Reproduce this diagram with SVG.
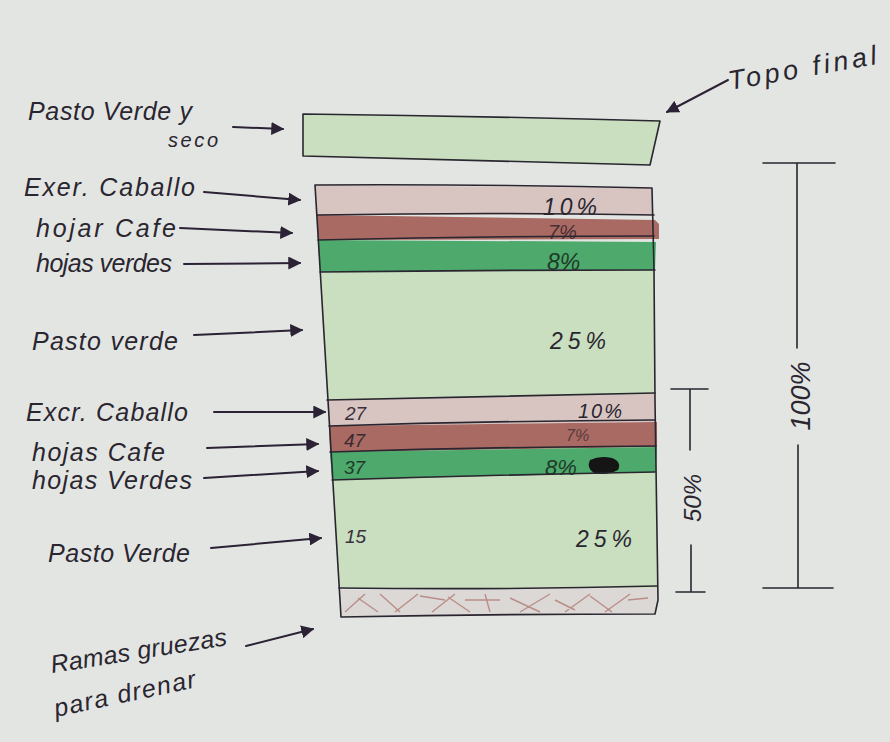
<svg xmlns="http://www.w3.org/2000/svg" width="890" height="742" viewBox="0 0 890 742">
<defs>
<marker id="ah" viewBox="0 0 10 10" refX="9" refY="5" markerWidth="13" markerHeight="13" markerUnits="userSpaceOnUse" orient="auto">
<path d="M0,0 L10,5 L0,10 Z" fill="#2b2235"/>
</marker>
<style>
.bg{fill:#e3e5e2}
.ink{fill:none;stroke:#2a2630;stroke-width:1.6;stroke-linecap:round;stroke-linejoin:round}
.arr{fill:none;stroke:#2b2235;stroke-width:2;stroke-linecap:round;marker-end:url(#ah)}
.lbl{font-family:"Liberation Sans","DejaVu Sans",sans-serif;font-style:italic;font-size:25px;fill:#2a2630}
.pct{font-family:"Liberation Sans","DejaVu Sans",sans-serif;font-style:italic;font-size:23px;fill:#2a2630}
.num{font-family:"Liberation Sans","DejaVu Sans",sans-serif;font-style:italic;font-size:19px;fill:#3a3040}
.lg{fill:#c9dfbf}
.pk{fill:#d8c5c2}
.br{fill:#a86a63}
.gr{fill:#4da96c}
.hatch{fill:none;stroke:#b98d88;stroke-width:1.4}
</style>
</defs>
<rect class="bg" x="0" y="0" width="890" height="742"/>

<!-- Top layer -->
<g id="topo-final">
<polygon class="lg" points="303,114 660,121 649,165 303,156"/>
<path class="ink" d="M303,114 Q480,116 660,121 M660,121 L650,165 M303,156 Q480,160 650,165 M303,114 L303,156"/>
</g>

<!-- Main stack layers -->
<g id="capa-exc-caballo-1">
<polygon class="pk" points="315,185 652,188 653,215 317,215"/>
<text class="pct" x="543" y="215" textLength="54" lengthAdjust="spacing">10%</text>
</g>
<g id="capa-hojas-cafe-1">
<polygon class="br" points="317,215 655,220 659,224 659,239 318,240"/>
<text class="pct" x="548" y="239" style="fill:#4a3035;font-size:20px">7%</text>
</g>
<g id="capa-hojas-verdes-1">
<polygon class="gr" points="318,240 656,242 655,270 320,272"/>
<text class="pct" x="547" y="270" style="fill:#1f3a28">8%</text>
</g>
<g id="capa-pasto-verde-1">
<polygon class="lg" points="320,272 655,270 655,398 327,400"/>
<text class="pct" x="550" y="349" textLength="56" lengthAdjust="spacing">25%</text>
</g>
<g id="capa-exc-caballo-2">
<polygon class="pk" points="327,400 655,394 655,422 329,426"/>
<text class="num" x="345" y="420">27</text>
<text class="pct" x="578" y="418" style="font-size:20px" textLength="44" lengthAdjust="spacing">10%</text>
</g>
<g id="capa-hojas-cafe-2">
<polygon class="br" points="329,426 657,422 657,447 330,452"/>
<text class="num" x="344" y="447" style="fill:#3a2a30">47</text>
<text class="pct" x="566" y="441" style="fill:#5a3a3a;font-size:16px">7%</text>
</g>
<g id="capa-pasto-verde-2">
<polygon class="lg" points="332,480 656,472 657,588 339,588"/>
<text class="num" x="345" y="543">15</text>
<text class="pct" x="576" y="547" textLength="56" lengthAdjust="spacing">25%</text>
</g>
<g id="capa-hojas-verdes-2">
<polygon class="gr" points="330,452 657,447 656,472 332,480"/>
<text class="num" x="344" y="474" style="fill:#1f3a28">37</text>
<text class="pct" x="545" y="475" style="fill:#1f3a28;font-size:22px">8%</text>
<path d="M590,460 Q600,455 612,458 Q622,462 618,470 Q606,476 594,473 Q586,468 590,460 Z" fill="#151515"/>
</g>
<g id="capa-ramas">
<polygon fill="#dcd8d5" points="340,590 657,588 656,614 341,617"/>
<path class="hatch" d="M345,612 L365,594 M358,598 L378,612 M380,594 L400,612 M395,612 L418,594 M420,596 L445,600 M432,612 L455,594 M448,597 L470,612 M465,600 L500,600 M485,594 L490,612 M510,598 L540,612 M520,612 L550,594 M555,600 L575,610 M565,612 L590,594 M590,596 L612,612 M605,612 L630,594 M628,600 L648,598"/>
</g>
<g id="stack-outline">
<path class="ink" d="M315,185 Q480,184 652,188 M652,188 L654,270 L655,400 L658,600 L655,614 M315,185 L328,400 L340,600 L341,617 Q500,614 655,614"/>
<path class="ink" d="M317,215 Q490,212 654,215 M318,240 Q490,236 654,236 M320,272 Q490,270 655,270 M327,400 Q490,396 655,393 M329,426 Q490,421 655,420 M330,452 Q490,447 656,446 M332,480 Q490,475 655,472 M339,588 Q500,590 657,586"/>
</g>

<!-- Labels -->
<g id="lbl-pasto-verde-seco">
<text class="lbl" x="28" y="120" textLength="164" lengthAdjust="spacing">Pasto Verde y</text>
<text class="lbl" x="168" y="147" style="font-size:20px" textLength="50" lengthAdjust="spacing">seco</text>
</g>
<g id="lbl-exc-caballo-1"><text class="lbl" x="24" y="196" textLength="171" lengthAdjust="spacing">Exer. Caballo</text></g>
<g id="lbl-hojas-cafe-1"><text class="lbl" x="36" y="237" textLength="140" lengthAdjust="spacing">hojar Cafe</text></g>
<g id="lbl-hojas-verdes-1"><text class="lbl" x="36" y="272" textLength="136" lengthAdjust="spacing">hojas verdes</text></g>
<g id="lbl-pasto-verde-1"><text class="lbl" x="32" y="350" textLength="146" lengthAdjust="spacing">Pasto verde</text></g>
<g id="lbl-exc-caballo-2"><text class="lbl" x="26" y="421" textLength="162" lengthAdjust="spacing">Excr. Caballo</text></g>
<g id="lbl-hojas-cafe-2"><text class="lbl" x="32" y="461" textLength="133" lengthAdjust="spacing">hojas Cafe</text></g>
<g id="lbl-hojas-verdes-2"><text class="lbl" x="32" y="489" textLength="160" lengthAdjust="spacing">hojas Verdes</text></g>
<g id="lbl-pasto-verde-2"><text class="lbl" x="48" y="562" textLength="142" lengthAdjust="spacing">Pasto Verde</text></g>
<g id="lbl-ramas">
<text class="lbl" x="52" y="673" transform="rotate(-9 52 673)" textLength="178" lengthAdjust="spacing">Ramas gruezas</text>
<text class="lbl" x="56" y="717" transform="rotate(-12 56 717)" textLength="144" lengthAdjust="spacing">para drenar</text>
</g>
<g id="lbl-topo-final">
<text class="lbl" x="730" y="90" style="font-size:27px" transform="rotate(-10 730 90)" textLength="150" lengthAdjust="spacing">Topo final</text>
</g>

<!-- Dimension lines -->
<g id="dim-100">
<path class="ink" d="M763,163 L835,163 M763,588 L833,588 M797,163 L797,348 M798,445 L798,588"/>
<text class="pct" x="0" y="0" text-anchor="middle" style="font-size:27px" transform="translate(810,396) rotate(-90)">100%</text>
</g>
<g id="dim-50">
<path class="ink" d="M671,389 L708,389 M676,592 L705,592 M690,389 L690,450 M691,545 L691,592"/>
<text class="pct" x="0" y="0" text-anchor="middle" style="font-size:24px" transform="translate(701,498) rotate(-90)">50%</text>
</g>

<!-- Connectors -->
<g id="connectors">
<path class="arr" d="M233,127 L283,129"/>
<path class="arr" d="M204,192 L300,200"/>
<path class="arr" d="M180,228 L292,233"/>
<path class="arr" d="M184,264 L300,263"/>
<path class="arr" d="M194,335 L302,330"/>
<path class="arr" d="M214,412 L325,412"/>
<path class="arr" d="M207,448 L318,444"/>
<path class="arr" d="M204,478 L318,471"/>
<path class="arr" d="M211,548 L321,538"/>
<path class="arr" d="M246,646 L313,629"/>
<path class="arr" d="M728,80 L667,112"/>
</g>
</svg>
